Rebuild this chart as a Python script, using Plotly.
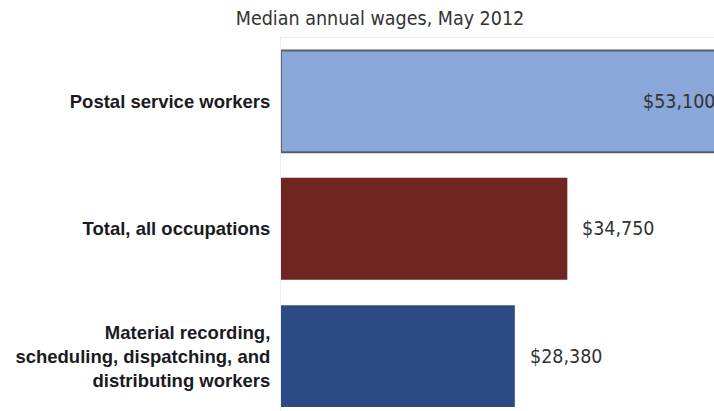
import plotly.graph_objects as go

# Median annual wages, May 2012
categories = [
    "Postal service workers",
    "Total, all occupations",
    "Material recording,<br>scheduling, dispatching, and<br>distributing workers",
]
wages = [53100, 34750, 28380]
bar_colors = ["#89A7D9", "#6F2520", "#2B4A86"]
value_labels = [f"${v:,}" for v in wages]

label_font = dict(family="Liberation Sans, Arial", size=18.5, color="#1a1a24", weight="bold")
value_font = dict(family="DejaVu Sans Condensed, DejaVu Sans", size=19.5, color="#333333")

fig = go.Figure()

# The first bar runs past the right edge, so its label sits inside the bar end;
# the others get labels just beyond their ends.
fig.add_trace(go.Bar(
    x=wages,
    y=categories,
    orientation="h",
    width=0.8,
    marker=dict(
        color=bar_colors,
        line=dict(color=["#56606c", "#6F2520", "#2B4A86"], width=[2, 0, 0]),
    ),
    text=[value_labels[0], "", ""],
    textposition="inside",
    insidetextanchor="end",
    textfont=value_font,
    insidetextfont=value_font,
    cliponaxis=True,
    hoverinfo="skip",
))

for cat, val, lab in zip(categories[1:], wages[1:], value_labels[1:]):
    fig.add_annotation(
        x=val, y=cat, text=lab, showarrow=False,
        xanchor="left", yanchor="middle", xshift=13,
        font=value_font,
    )

fig.update_layout(
    width=714,
    height=411,
    margin=dict(l=281, r=0, t=38, b=0),
    paper_bgcolor="white",
    plot_bgcolor="white",
    showlegend=False,
    bargap=0.2,
    title=dict(
        text="Median annual wages, May 2012",
        x=380 / 714, xanchor="center", xref="container",
        y=1 - 18 / 411, yanchor="middle", yref="container",
        font=dict(family="DejaVu Sans Condensed, DejaVu Sans", size=19.5, color="#333333"),
    ),
    xaxis=dict(
        range=[0, 52550],
        showgrid=False,
        zeroline=False,
        showticklabels=False,
        showline=True,
        side="top",
        linecolor="#ededed",
        linewidth=1,
    ),
    yaxis=dict(
        type="category",
        categoryorder="array",
        categoryarray=categories,
        range=[2.431, -0.498],
        showgrid=False,
        zeroline=False,
        showline=True,
        linecolor="#ececec",
        linewidth=1,
        ticks="",
        ticklabelstandoff=6,
        tickfont=label_font,
    ),
)

fig.write_html("out.html")
